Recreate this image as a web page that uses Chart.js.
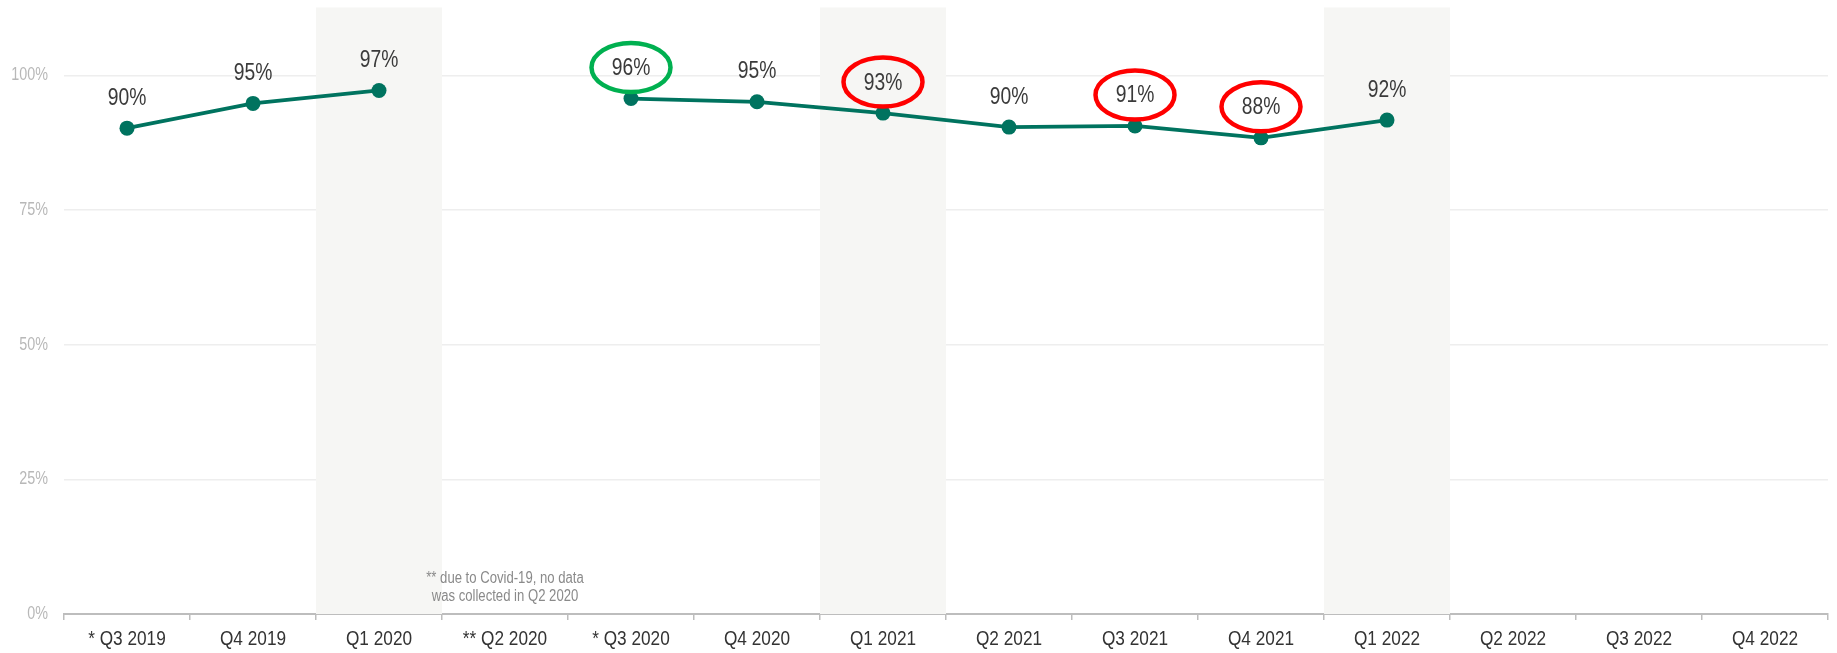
<!DOCTYPE html>
<html>
<head>
<meta charset="utf-8">
<script src="https://cdn.jsdelivr.net/npm/chart.js@4/dist/chart.umd.min.js"></script>
<style>
  html, body { margin: 0; padding: 0; background: #ffffff; }
  #wrap { width: 1837px; height: 653px; position: relative; }
</style>
</head>
<body>
<div id="wrap"><canvas id="chart" width="1837" height="653"></canvas></div>
<script>
// Quarterly score, in percent (null = quarter without data)
const quarters = ['* Q3 2019', 'Q4 2019', 'Q1 2020', '** Q2 2020', '* Q3 2020', 'Q4 2020',
                  'Q1 2021', 'Q2 2021', 'Q3 2021', 'Q4 2021', 'Q1 2022', 'Q2 2022', 'Q3 2022', 'Q4 2022'];
const scores = [90.2, 94.8, 97.2, null, 95.7, 95.1, 93.0, 90.4, 90.6, 88.4, 91.7, null, null, null];
const yTicks = [0, 25, 50, 75, 100];
// First quarters of each year get a shaded column
const shadedQuarters = ['Q1 2020', 'Q1 2021', 'Q1 2022'];
// Labels circled as improvement / decline
const circledUp = ['* Q3 2020'];
const circledDown = ['Q1 2021', 'Q3 2021', 'Q4 2021'];
const noteLines = ['** due to Covid-19, no data', 'was collected in Q2 2020'];
const noteQuarter = '** Q2 2020';

// Arial-metric face, squeezed horizontally to a narrow cut
const FONT = '"Liberation Sans", Arial, sans-serif';
const NARROW = 0.82;
const TEAL = '#00735f';

// Draws the axis labels of a scale with a horizontal squeeze
function drawNarrowLabels(scale, chartArea) {
  if (!scale.options.ticks.display) return;
  const ctx = scale.ctx;
  for (const item of scale.getLabelItems(chartArea)) {
    const o = item.options;
    ctx.save();
    ctx.font = item.font.string;
    ctx.fillStyle = o.color;
    ctx.textAlign = o.textAlign;
    ctx.textBaseline = o.textBaseline;
    ctx.translate(o.translation[0], o.translation[1]);
    if (o.rotation) ctx.rotate(o.rotation);
    ctx.scale(NARROW, 1);
    const lines = Array.isArray(item.label) ? item.label : [item.label];
    let y = item.textOffset;
    for (const line of lines) {
      ctx.fillText(line, 0, y);
      y += item.font.lineHeight;
    }
    ctx.restore();
  }
}

class NarrowCategoryScale extends Chart.CategoryScale {
  drawLabels(chartArea) { drawNarrowLabels(this, chartArea); }
}
NarrowCategoryScale.id = 'narrowCategory';
NarrowCategoryScale.defaults = Chart.CategoryScale.defaults;

class NarrowLinearScale extends Chart.LinearScale {
  drawLabels(chartArea) { drawNarrowLabels(this, chartArea); }
}
NarrowLinearScale.id = 'narrowLinear';
NarrowLinearScale.defaults = Chart.LinearScale.defaults;

Chart.register(NarrowCategoryScale, NarrowLinearScale);

function narrowText(ctx, text, x, y) {
  ctx.save();
  ctx.translate(x, y);
  ctx.scale(NARROW, 1);
  ctx.fillText(text, 0, 0);
  ctx.restore();
}

const shadePlugin = {
  id: 'shade',
  beforeDatasetsDraw(chart) {
    const { ctx, chartArea, scales: { x } } = chart;
    ctx.save();
    ctx.fillStyle = '#f6f6f4';
    const w = x.getPixelForValue(1) - x.getPixelForValue(0);
    shadedQuarters.forEach(q => {
      const c = x.getPixelForValue(quarters.indexOf(q));
      ctx.fillRect(c - w / 2, chartArea.top, w, chartArea.bottom - chartArea.top);
    });
    ctx.restore();
  }
};

const labelPlugin = {
  id: 'valueLabels',
  afterDatasetsDraw(chart) {
    const { ctx } = chart;
    const meta = chart.getDatasetMeta(0);
    ctx.save();
    ctx.font = '23.5px ' + FONT;
    ctx.textAlign = 'center';
    ctx.textBaseline = 'middle';
    meta.data.forEach((pt, i) => {
      const v = scores[i];
      if (v === null) return;
      const cx = pt.x, cy = pt.y - 31;
      ctx.fillStyle = '#3a3a3a';
      narrowText(ctx, Math.round(v) + '%', cx, cy + 1);
      const q = quarters[i];
      let ring = null;
      if (circledUp.includes(q)) ring = '#00b050';
      if (circledDown.includes(q)) ring = '#ff0000';
      if (ring) {
        ctx.beginPath();
        ctx.ellipse(cx, cy, 39.5, 24.5, 0, 0, Math.PI * 2);
        ctx.lineWidth = 4.5;
        ctx.strokeStyle = ring;
        ctx.stroke();
      }
    });
    // footnote for the missing quarter
    const x = chart.scales.x;
    const nx = x.getPixelForValue(quarters.indexOf(noteQuarter));
    ctx.font = '16px ' + FONT;
    ctx.fillStyle = '#8a8a8a';
    narrowText(ctx, noteLines[0], nx, 579);
    narrowText(ctx, noteLines[1], nx, 597);
    ctx.restore();
  }
};

new Chart(document.getElementById('chart'), {
  type: 'line',
  data: {
    labels: quarters,
    datasets: [{
      data: scores,
      borderColor: TEAL,
      backgroundColor: TEAL,
      borderWidth: 3.75,
      pointRadius: 7.5,
      pointHoverRadius: 7.5,
      pointBackgroundColor: TEAL,
      pointBorderWidth: 0,
      spanGaps: false,
      tension: 0
    }]
  },
  options: {
    responsive: false,
    animation: false,
    devicePixelRatio: 1,
    layout: { padding: { top: 7, right: 9, left: 0, bottom: 0 } },
    plugins: { legend: { display: false }, tooltip: { enabled: false } },
    scales: {
      x: {
        type: 'narrowCategory',
        offset: true,
        grid: { offset: true, drawOnChartArea: false, tickLength: 6, color: '#bdbdbd', lineWidth: 1.5 },
        border: { color: '#bdbdbd', width: 2 },
        ticks: { color: '#333333', font: { family: FONT, size: 21 }, padding: 7, maxRotation: 0, autoSkip: false },
        afterFit(s) { s.height = 39; s.paddingLeft = 0; s.paddingRight = 0; }
      },
      y: {
        type: 'narrowLinear',
        min: 0,
        max: 112.6,
        afterBuildTicks(s) { s.ticks = yTicks.map(v => ({ value: v })); },
        grid: { color: '#eeeeee', lineWidth: 1.5, drawTicks: false },
        border: { display: false },
        ticks: { color: '#b8b8b8', font: { family: FONT, size: 17.5 }, padding: 16, callback: v => v + '%' },
        afterFit(s) { s.width = 64; s.paddingTop = 0; s.paddingBottom = 0; }
      }
    }
  },
  plugins: [shadePlugin, labelPlugin]
});
</script>
</body>
</html>
